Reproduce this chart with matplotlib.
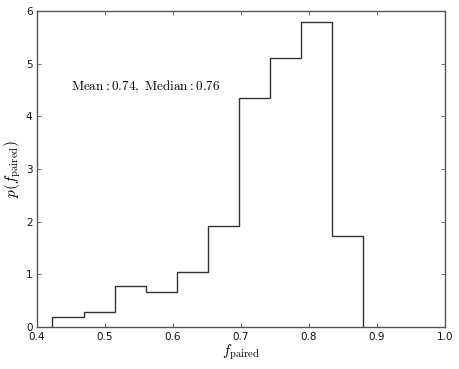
import numpy as np
import matplotlib
matplotlib.use('Agg')
import matplotlib.pyplot as plt

plt.rcParams['mathtext.fontset'] = 'cm'

# histogram of f_paired (density)
edges = [0.423, 0.469, 0.515, 0.560, 0.606, 0.652, 0.697, 0.743, 0.788, 0.834, 0.880]
density = [0.18, 0.28, 0.77, 0.67, 1.05, 1.92, 4.34, 5.11, 5.79, 1.73]
stats_label = r'$\mathrm{Mean:}0.74\mathrm{,\ Median:}0.76$'
xticks = [0.4, 0.5, 0.6, 0.7, 0.8, 0.9, 1.0]
yticks = [0, 1, 2, 3, 4, 5, 6]

fig = plt.figure(figsize=(4.59, 3.69), dpi=100)
ax = fig.add_axes([0.080, 0.114, 0.8895, 0.856])

ax.stairs(density, edges, color='#333333', lw=1.0, baseline=0)

ax.text(0.45, 4.5, stats_label, fontsize=9.5)

ax.set_xlim(0.4, 1.0)
ax.set_ylim(0, 6)
ax.set_xticks(xticks)
ax.set_yticks(yticks)
ax.set_xticklabels(['%.1f' % t for t in xticks])
ax.tick_params(direction='in', length=3, width=0.6, top=True, right=True,
               labelsize=7.5, color='#555555', labelcolor='#111111')
ax.tick_params(axis='x', pad=4)
ax.tick_params(axis='y', pad=3)
for s in ax.spines.values():
    s.set_linewidth(1.0)
    s.set_color('#555555')

ax.set_xlabel(r'$f_{\rm paired}$', fontsize=11, labelpad=0)
ax.set_ylabel(r'$p(f_{\rm paired})$', fontsize=11, labelpad=2)

fig.savefig('out.png', dpi=100)
